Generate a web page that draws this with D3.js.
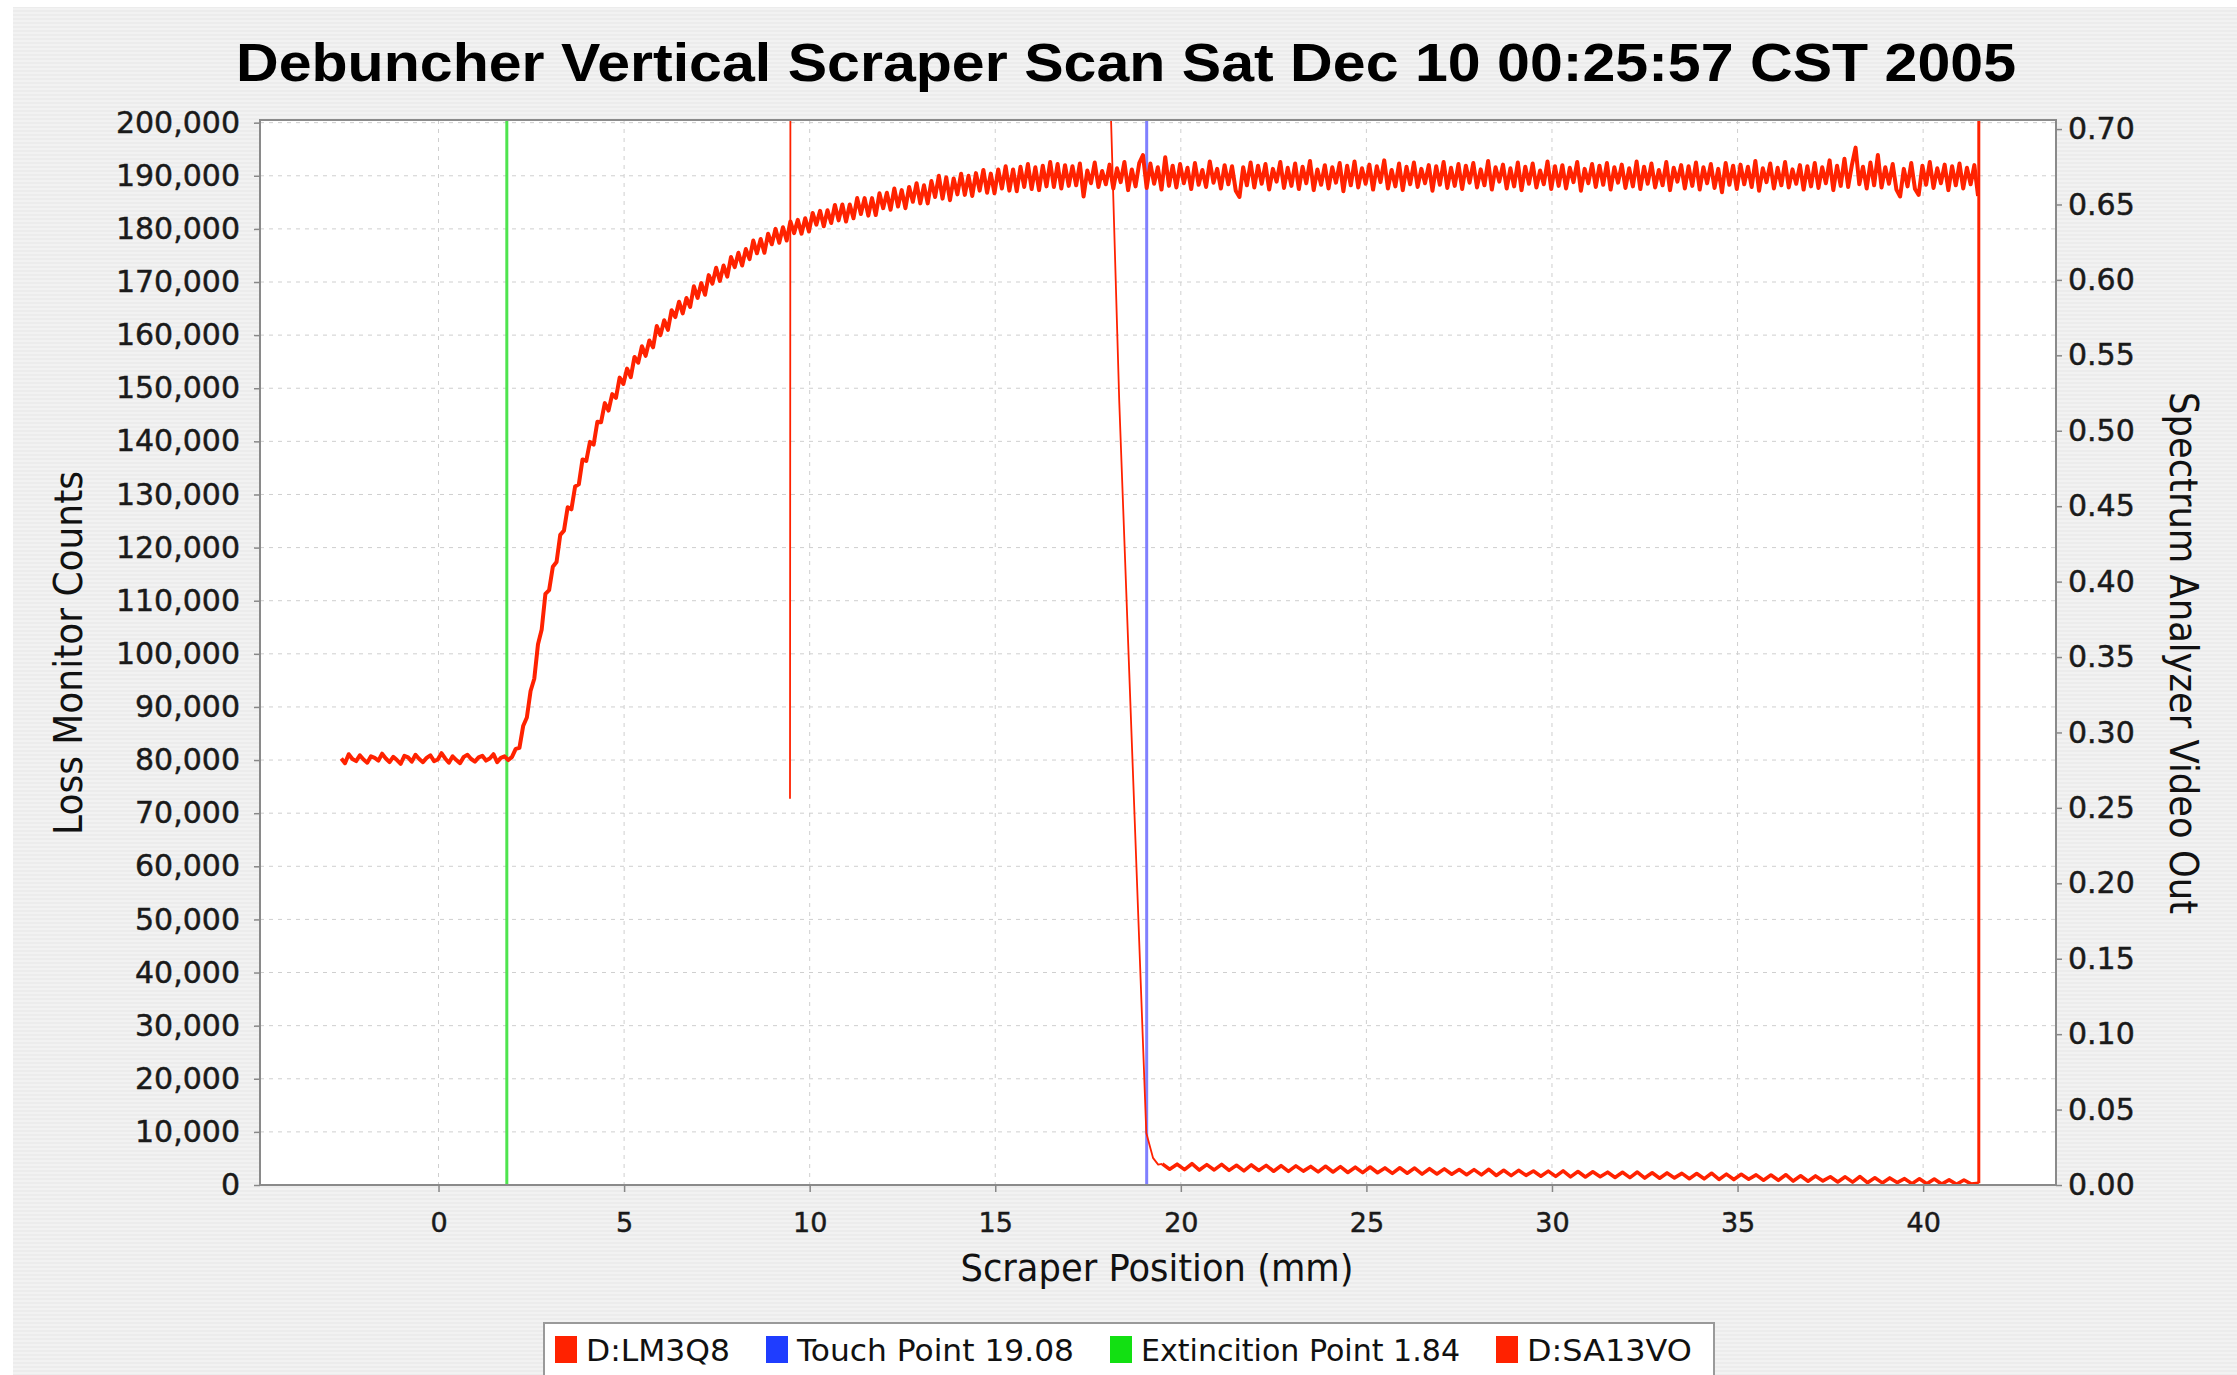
<!DOCTYPE html>
<html><head><meta charset="utf-8">
<script src="https://cdn.jsdelivr.net/npm/d3@7"></script>
<style>html,body{margin:0;padding:0;background:#fff;} svg{display:block;}</style>
</head><body>
<svg id="chart" width="2237" height="1375"></svg>
<script>
// ---------------- data ----------------
const chartTitle = "Debuncher Vertical Scraper Scan Sat Dec 10 00:25:57 CST 2005";
const xTitle = "Scraper Position (mm)";
const yLeftTitle = "Loss Monitor Counts";
const yRightTitle = "Spectrum Analyzer Video Out";
const xTicks = [0, 5, 10, 15, 20, 25, 30, 35, 40];
const yLeftTicks = [0, 10000, 20000, 30000, 40000, 50000, 60000, 70000, 80000, 90000, 100000,
  110000, 120000, 130000, 140000, 150000, 160000, 170000, 180000, 190000, 200000];
const yRightTicks = [0, 0.05, 0.10, 0.15, 0.20, 0.25, 0.30, 0.35, 0.40, 0.45, 0.50, 0.55, 0.60, 0.65, 0.70];
const legendLabels = ["D:LM3Q8", "Touch Point 19.08", "Extincition Point 1.84", "D:SA13VO"];
const touchPoint = 19.08;
const extinctionPoint = 1.84;

// D:LM3Q8 loss monitor counts, sampled every 0.1 mm starting at -2.62 mm
const lossStart = -2.62, lossStep = 0.1;
const lossCounts = [
80300, 79400, 81100, 80200, 79800, 80900, 80100, 79500, 80700, 80400,
79900, 81200, 80300, 79600, 80600, 80000, 79300, 80800, 80500, 79700,
81000, 80200, 79600, 80400, 80900, 79800, 80100, 81300, 80300, 79500,
80700, 80000, 79400, 80600, 81000, 80200, 79700, 80500, 80800, 79900,
80300, 81100, 79600, 80400, 80700, 80000, 80600,
82100, 82300, 86400, 88000, 93000, 95300, 101800, 104600, 111300, 112000,
116400, 117300, 122400, 123200, 127600, 127200, 131500, 131900, 136600, 136300,
139900, 139400, 143700, 143600, 147200, 145800, 148900, 148200, 152000, 150800,
153700, 152100, 155900, 154800, 157900, 156100, 159000, 157700, 161700, 160000,
162800, 161000, 164700, 163400, 166300, 164100, 167000, 165300, 169200, 167000,
169800, 167600, 171300, 169700, 172700, 170200, 173100, 171000, 174700, 172800,
175500, 173100, 176200, 174300, 177800, 175400, 178100, 175500, 179100, 177100,
180000, 177400, 180300, 177800, 181400, 179200, 181700, 179100, 182000, 179500,
183000, 180800, 183400, 180500, 183500, 181100,
184500, 181600, 184600, 181400, 184600, 182000, 185800, 182800, 185800, 182500,
185800, 182600, 186700, 183900, 186800, 183600, 187600, 184200, 187300, 183900,
187900, 185100, 188600, 184800, 188200, 184800, 189000, 186000, 190000, 185700,
189700, 185400, 189500, 186500, 190400, 186400, 190000, 186200, 190500, 187200,
191100, 186800, 190400, 186700, 191200, 187600, 191800, 187200, 191200, 187100,
191700, 187900, 192200, 187500, 191600, 187300, 191900, 188000, 192600, 187900,
192200, 187600, 192000, 188100,
191800, 188200, 192300, 186100, 191000, 188600, 192500, 187900, 190900, 188400,
192100, 187600, 191400, 188800, 192600, 187300, 191200, 188000, 192400, 193900,
187700, 192300, 188500, 191600, 187400, 193500, 188100, 191900, 187800, 192200,
188600, 191500, 187500, 192400, 188300, 191100, 187900, 192700, 188700, 191300,
187600, 192000, 188400, 191800, 187200, 186000, 191600, 188200, 192500, 187800,
191900, 188500, 192200, 187400, 191300, 188900, 192600, 187700, 191500, 188100,
192300, 187500, 191700, 188600, 192800, 187300, 191200, 188300, 192000, 187600,
191600, 188700, 192400, 187100, 191900, 188200, 192700, 187800, 191400, 188500,
192100, 187400, 191800, 188800, 192900, 187600, 191100, 188000, 192300, 187300,
191700, 188400, 192500, 187900, 191300, 188600, 192000, 187200, 191800, 188300,
192600, 187700, 191500, 188100, 192200, 187500, 191900, 188700, 192400, 187800,
191200, 188200, 192800, 187400, 191600, 188900, 192100, 187600, 191400, 188000,
192500, 187300, 191700, 188500, 192300, 187800, 191000, 188400, 192700, 187500,
191800, 188100, 192000, 187600, 191500, 188800, 192600, 187200, 191300, 188600,
192200, 187900, 191900, 188300, 192400, 187400, 191600, 188700, 192100, 187700,
191400, 188000, 192700, 187500, 191700, 188500, 192300, 187800, 191100, 188200,
192600, 187300, 191500, 188900, 192000, 187600, 191800, 188100, 192500, 187400,
191600, 188600, 192200, 187700, 191300, 186900, 192400, 188300, 191900, 187500,
192100, 188400, 191700, 187900, 192800, 187200, 191400, 188800, 192300, 187600,
191500, 188200, 192600, 187800, 191200, 188500, 192000, 187400, 191800, 188000,
192400, 187700, 191600, 188600, 192900, 187300, 191900, 188100, 193200, 187900,
192000, 195300, 188400, 191700, 187600, 192500, 188200, 193900, 187800, 191600,
188500, 192200, 187400, 186100, 191300, 188000, 192400, 187500, 186400, 191900,
188300, 192600, 187700, 191400, 188600, 192100, 187300, 191800, 188200, 192300,
187600, 191500, 188400, 192000, 186200
];

// D:SA13VO spectrum analyzer video out (volts)
const saHeadPos = [9.47, 9.49, 17.60, 18.12, 18.34, 18.70, 19.07, 19.25, 19.39];
const saHeadVal = [0.256, 1.15, 1.15, 0.706, 0.520, 0.280, 0.0345, 0.018, 0.0135];
const saTailStart = 19.5, saTailStep = 0.2;
const saTailVal = [
0.0140, 0.0105, 0.0138, 0.0102, 0.0141,
0.0099, 0.0135, 0.0100, 0.0137, 0.0097,
0.0131, 0.0094, 0.0133, 0.0096, 0.0130,
0.0091, 0.0128, 0.0090, 0.0127, 0.0092,
0.0123, 0.0087, 0.0124, 0.0086, 0.0122,
0.0083, 0.0118, 0.0082, 0.0119, 0.0081,
0.0113, 0.0077, 0.0114, 0.0078, 0.0112,
0.0072, 0.0108, 0.0073, 0.0107, 0.0071,
0.0103, 0.0068, 0.0102, 0.0067, 0.0104,
0.0063, 0.0098, 0.0062, 0.0097, 0.0064,
0.0093, 0.0058, 0.0092, 0.0057, 0.0094,
0.0054, 0.0089, 0.0053, 0.0088, 0.0055,
0.0085, 0.0050, 0.0084, 0.0049, 0.0086,
0.0046, 0.0081, 0.0045, 0.0080, 0.0047,
0.0077, 0.0042, 0.0076, 0.0041, 0.0078,
0.0037, 0.0072, 0.0036, 0.0071, 0.0038,
0.0067, 0.0032, 0.0066, 0.0031, 0.0068,
0.0026, 0.0061, 0.0025, 0.0060, 0.0027,
0.0055, 0.0020, 0.0054, 0.0019, 0.0056,
0.0015, 0.0048, 0.0014, 0.0047, 0.0016,
0.0042, 0.0009, 0.0041, 0.0008, 0.0040,
0.0006, 0.0034, 0.0005, 0.0033, 0.0006,
0.0012
];
const saEndPos = [41.5];
const saEndVal = [1.15];

// ---------------- layout ----------------
const W = 2237, H = 1375;
const P = {left: 260, right: 2056, top: 120, bottom: 1185};
const RED = "#ff2200";
const FONT = "'DejaVu Sans', sans-serif";

const x = d3.scaleLinear().domain([-4.81, 43.58]).range([P.left, P.right]);
const yL = d3.scaleLinear().domain([0, 200500]).range([P.bottom, P.top]);
const yR = d3.scaleLinear().domain([0, 0.706]).range([P.bottom, P.top]);

const svg = d3.select("#chart");
const defs = svg.append("defs");
const pat = defs.append("pattern").attr("id", "stripes").attr("patternUnits", "userSpaceOnUse")
  .attr("width", 8).attr("height", 4);
pat.append("rect").attr("width", 8).attr("height", 4).attr("fill", "#ececec");
pat.append("rect").attr("width", 8).attr("height", 2).attr("fill", "#f2f2f2");
defs.append("clipPath").attr("id", "plotClip").append("rect")
  .attr("x", P.left).attr("y", P.top).attr("width", P.right - P.left).attr("height", P.bottom - P.top);

svg.append("rect").attr("x", 13).attr("y", 7).attr("width", W - 13).attr("height", H - 7)
  .attr("fill", "url(#stripes)");

// title
svg.append("text").attr("x", 1126).attr("y", 81).attr("text-anchor", "middle")
  .attr("font-family", "'Liberation Sans', Arial, sans-serif").attr("font-weight", "bold")
  .attr("font-size", 54).attr("textLength", 1780).attr("lengthAdjust", "spacingAndGlyphs")
  .attr("fill", "#000").text(chartTitle);

// plot background
svg.append("rect").attr("x", P.left).attr("y", P.top).attr("width", P.right - P.left)
  .attr("height", P.bottom - P.top).attr("fill", "#fff");

// gridlines
const grid = svg.append("g").attr("stroke", "#cfcfcf").attr("stroke-width", 1).attr("stroke-dasharray", "4,5");
grid.selectAll("line.h").data(yLeftTicks).join("line").attr("class", "h")
  .attr("x1", P.left).attr("x2", P.right).attr("y1", d => yL(d)).attr("y2", d => yL(d));
grid.selectAll("line.v").data(xTicks).join("line").attr("class", "v")
  .attr("x1", d => x(d)).attr("x2", d => x(d)).attr("y1", P.top).attr("y2", P.bottom);

// markers
const markers = [
  {pos: extinctionPoint, color: "#4ee44e"},
  {pos: touchPoint, color: "#8080ff"}
];
svg.append("g").selectAll("line").data(markers).join("line")
  .attr("x1", d => x(d.pos)).attr("x2", d => x(d.pos)).attr("y1", P.top).attr("y2", P.bottom)
  .attr("stroke", d => d.color).attr("stroke-width", 3);

// series
const lossData = lossCounts.map((v, i) => [lossStart + i * lossStep, v]);
const saHead = saHeadPos.map((p, i) => [p, saHeadVal[i]]);
const saTail = saTailVal.map((v, i) => [saTailStart + i * saTailStep, v]);
const saEnd = [saTail[saTail.length - 1]].concat(saEndPos.map((p, i) => [p, saEndVal[i]]));
const saLine = d3.line().x(d => x(d[0])).y(d => yR(d[1]));

const plot = svg.append("g").attr("clip-path", "url(#plotClip)")
  .attr("fill", "none").attr("stroke", RED).attr("stroke-linejoin", "round");
plot.append("path").datum(saHead.concat([saTail[0]])).attr("stroke-width", 1.8).attr("d", saLine);
plot.append("path").datum(saTail).attr("stroke-width", 3.6).attr("d", saLine);
plot.append("path").datum(saEnd).attr("stroke-width", 3).attr("d", saLine);
plot.append("path").datum(lossData).attr("stroke-width", 4)
  .attr("d", d3.line().x(d => x(d[0])).y(d => yL(d[1])));

// plot border
svg.append("rect").attr("x", P.left).attr("y", P.top).attr("width", P.right - P.left)
  .attr("height", P.bottom - P.top).attr("fill", "none").attr("stroke", "#8a8a8a").attr("stroke-width", 2);

// axes
function styleAxis(g, size) {
  g.select(".domain").remove();
  g.selectAll(".tick line").attr("stroke", "#888").attr("stroke-width", 1.5);
  g.selectAll(".tick text").attr("font-family", FONT).attr("font-size", size).attr("fill", "#1a1a1a")
    .attr("stroke", "#1a1a1a").attr("stroke-width", 0.45);
}
svg.append("g").attr("transform", `translate(${P.left},0)`)
  .call(d3.axisLeft(yL).tickValues(yLeftTicks).tickFormat(d3.format(",")).tickSize(6).tickPadding(14))
  .call(g => styleAxis(g, 30));
svg.append("g").attr("transform", `translate(${P.right},0)`)
  .call(d3.axisRight(yR).tickValues(yRightTicks).tickFormat(d3.format(".2f")).tickSize(6).tickPadding(6))
  .call(g => styleAxis(g, 30));
svg.append("g").attr("transform", `translate(0,${P.bottom})`)
  .call(d3.axisBottom(x).tickValues(xTicks).tickFormat(d3.format("d")).tickSize(7).tickPadding(21))
  .call(g => styleAxis(g, 27));

// axis titles
svg.append("text").attr("transform", "translate(82,653) rotate(-90)").attr("text-anchor", "middle")
  .attr("font-family", FONT).attr("font-size", 39).attr("textLength", 364).attr("lengthAdjust", "spacingAndGlyphs")
  .attr("fill", "#111").text(yLeftTitle);
svg.append("text").attr("transform", "translate(2170,653) rotate(90)").attr("text-anchor", "middle")
  .attr("font-family", FONT).attr("font-size", 39).attr("textLength", 522).attr("lengthAdjust", "spacingAndGlyphs")
  .attr("fill", "#111").text(yRightTitle);
svg.append("text").attr("x", 1157).attr("y", 1281).attr("text-anchor", "middle")
  .attr("font-family", FONT).attr("font-size", 38).attr("textLength", 393).attr("lengthAdjust", "spacingAndGlyphs")
  .attr("fill", "#111").text(xTitle);

// legend
const legendColors = [RED, "#1f3dff", "#12e012", RED];
const legendTextW = [144, 277, 319, 165];
const leg = svg.append("g");
const box = leg.append("rect").attr("fill", "#fff").attr("stroke", "#9a9a9a").attr("stroke-width", 2);
let cursor = 554;
legendLabels.forEach((d, i) => {
  leg.append("rect").attr("x", cursor + 1).attr("y", 1336).attr("width", 22).attr("height", 27).attr("fill", legendColors[i]);
  leg.append("text").attr("x", cursor + 32).attr("y", 1361).attr("font-family", FONT)
    .attr("font-size", 31).attr("textLength", legendTextW[i]).attr("lengthAdjust", "spacingAndGlyphs")
    .attr("fill", "#111").text(d);
  cursor += 32 + legendTextW[i] + 35;
});
box.attr("x", 544).attr("y", 1323).attr("width", cursor - 35 + 22 - 544).attr("height", 60);
</script>
</body></html>
